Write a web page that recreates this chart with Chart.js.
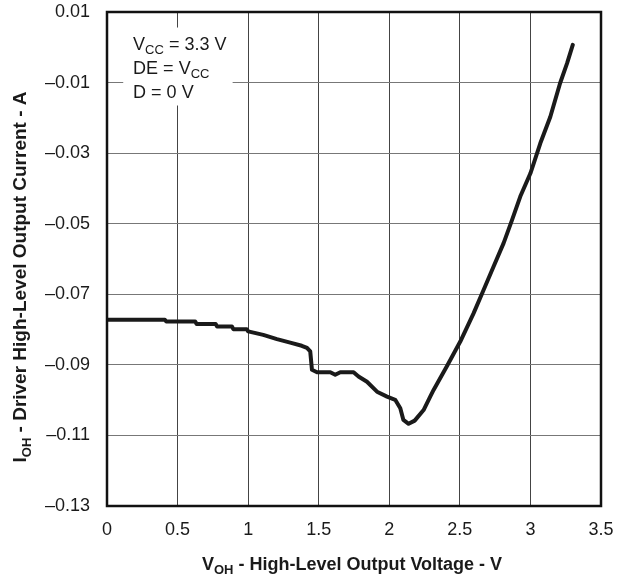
<!DOCTYPE html>
<html>
<head>
<meta charset="utf-8">
<script src="https://cdn.jsdelivr.net/npm/chart.js@4/dist/chart.umd.min.js"></script>
<style>
html,body{margin:0;padding:0;background:#fff;}
#wrap{width:618px;height:577px;position:relative;}
</style>
</head>
<body>
<div id="wrap"><canvas id="c" width="618" height="577"></canvas></div>
<script>
// Data
const voltage = [0, 0.41, 0.42, 0.625, 0.635, 0.77, 0.78, 0.885, 0.895, 0.99, 1.0, 1.107, 1.204, 1.298, 1.38, 1.417, 1.44, 1.452, 1.488, 1.582, 1.617, 1.653, 1.747, 1.782, 1.842, 1.913, 1.984, 2.042, 2.078, 2.10, 2.137, 2.18, 2.243, 2.29, 2.314, 2.409, 2.503, 2.597, 2.668, 2.739, 2.81, 2.87, 2.928, 3.0, 3.07, 3.141, 3.21, 3.26, 3.30];
const current = [-0.0772, -0.0772, -0.0777, -0.0777, -0.0784, -0.0784, -0.0791, -0.0791, -0.0799, -0.0799, -0.0805, -0.0815, -0.0827, -0.0837, -0.0846, -0.0852, -0.0862, -0.0914, -0.0921, -0.0921, -0.0928, -0.0921, -0.0921, -0.0933, -0.0948, -0.0976, -0.0990, -0.0999, -0.1023, -0.1056, -0.1067, -0.1058, -0.1028, -0.0990, -0.0971, -0.0903, -0.0834, -0.0754, -0.0688, -0.0621, -0.0555, -0.0489, -0.0423, -0.0357, -0.0272, -0.0197, -0.0102, -0.0045, 0.0007];
const xTicks = [0, 0.5, 1, 1.5, 2, 2.5, 3, 3.5];
const yTicks = [-0.13, -0.11, -0.09, -0.07, -0.05, -0.03, -0.01, 0.01];
const xTitle = [["V",""],["OH","sub"],[" - High-Level Output Voltage - V",""]];
const yTitle = [["I",""],["OH","sub"],[" - Driver High-Level Output Current - A",""]];
const noteLines = [
  [["V",""],["CC","sub"],[" = 3.3 V",""]],
  [["DE = V",""],["CC","sub"]],
  [["D = 0 V",""]]
];

const FONT = '"Liberation Sans", Arial, Helvetica, sans-serif';

function fmtX(v){ return String(v); }
function fmtY(v){
  const s = Math.abs(v).toFixed(2);
  return (v < 0 ? '\u2013' : '') + s;
}

function drawRich(ctx, parts, x, y, size, bold, align){
  const subSize = Math.round(size*0.7);
  const mainF = (bold ? 'bold ' : '') + size + 'px ' + FONT;
  const subF = (bold ? 'bold ' : '') + subSize + 'px ' + FONT;
  let total = 0;
  const widths = parts.map(p => { ctx.font = p[1]==='sub' ? subF : mainF; const w = ctx.measureText(p[0]).width; total += w; return w; });
  let cx = align === 'center' ? x - total/2 : x;
  ctx.textAlign = 'left';
  ctx.textBaseline = 'alphabetic';
  parts.forEach((p,i) => {
    ctx.font = p[1]==='sub' ? subF : mainF;
    ctx.fillText(p[0], cx, y + (p[1]==='sub' ? size*0.24 : 0));
    cx += widths[i];
  });
}

const decor = {
  id: 'decor',
  beforeDatasetsDraw(chart){
    const ctx = chart.ctx;
    const xs = chart.scales.x, ys = chart.scales.y;
    ctx.save();
    ctx.fillStyle = '#fff';
    const bx = xs.getPixelForValue(0.115), bx2 = xs.getPixelForValue(0.89);
    const by = ys.getPixelForValue(0.0056), by2 = ys.getPixelForValue(-0.0165);
    ctx.fillRect(bx, by, bx2-bx, by2-by);
    ctx.fillStyle = '#1a1a1a';
    const tx = xs.getPixelForValue(0.185);
    const ty = ys.getPixelForValue(-0.0008);
    noteLines.forEach((ln,i) => { drawRich(ctx, ln, tx, ty + i*24, 18, false, 'left'); });
    ctx.restore();
  },
  afterDraw(chart){
    const ctx = chart.ctx;
    const a = chart.chartArea;
    ctx.save();
    ctx.strokeStyle = '#111';
    ctx.lineWidth = 2.5;
    ctx.strokeRect(a.left, a.top, a.right - a.left, a.bottom - a.top);
    ctx.fillStyle = '#1a1a1a';
    drawRich(ctx, xTitle, (a.left + a.right)/2 - 2, 570, 18, true, 'center');
    ctx.translate(26, (a.top + a.bottom)/2 + 18);
    ctx.rotate(-Math.PI/2);
    drawRich(ctx, yTitle, 0, 0, 19, true, 'center');
    ctx.restore();
  }
};

new Chart(document.getElementById('c'), {
  type: 'line',
  data: {
    datasets: [{
      data: voltage.map((v,i) => ({x: v, y: current[i]})),
      borderColor: '#1a1a1a',
      borderWidth: 4,
      pointRadius: 0,
      tension: 0,
      fill: false,
      borderJoinStyle: 'round',
      borderCapStyle: 'round'
    }]
  },
  options: {
    responsive: false,
    animation: false,
    devicePixelRatio: 1,
    layout: { padding: { left: 0, right: 17, top: 12, bottom: 0 } },
    plugins: { legend: { display: false }, tooltip: { enabled: false } },
    scales: {
      x: {
        type: 'linear', min: 0, max: 3.5,
        afterBuildTicks(s){ s.ticks = xTicks.map(v => ({value: v})); },
        afterFit(s){ s.height = 71; },
        grid: { color: '#444', lineWidth: 1, drawTicks: true, tickLength: 13, tickColor: 'rgba(0,0,0,0)' },
        border: { display: false },
        ticks: { padding: 0, color: '#1a1a1a', font: { family: FONT, size: 18 }, callback: v => fmtX(v), maxRotation: 0 }
      },
      y: {
        type: 'linear', min: -0.13, max: 0.01,
        afterBuildTicks(s){ s.ticks = yTicks.map(v => ({value: v})); },
        afterFit(s){ s.width = 107; },
        grid: { color: '#777', lineWidth: 1, drawTicks: true, tickLength: 17, tickColor: 'rgba(0,0,0,0)' },
        border: { display: false },
        ticks: { padding: 0, color: '#1a1a1a', font: { family: FONT, size: 18 }, callback: v => fmtY(v) }
      }
    }
  },
  plugins: [decor]
});
</script>
</body>
</html>
